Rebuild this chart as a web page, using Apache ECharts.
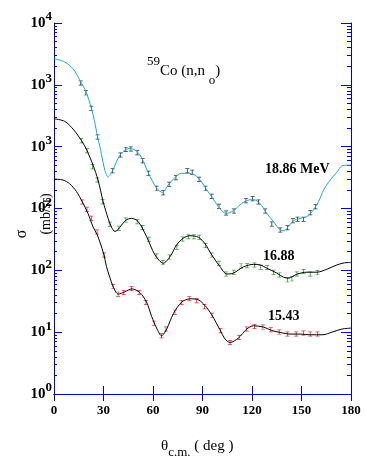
<!DOCTYPE html>
<html>
<head>
<meta charset="utf-8">
<script src="https://cdn.jsdelivr.net/npm/echarts@6/dist/echarts.min.js"></script>
<style>
  html, body { margin: 0; padding: 0; background: #fff; }
  #main { width: 365px; height: 464px; }
</style>
</head>
<body>
<div id="main"></div>
<script>
// [angle (deg), log10 sigma in axis units]
var curve1886 = [[0,5.425],[6.5,5.37],[11.5,5.26],[15.6,5.08],[19.5,4.88],[22.7,4.62],[24.5,4.42],[26.4,4.16],[27.8,4.0],[29.8,3.74],[30.8,3.62],[32.8,3.51],[35.5,3.61],[37.9,3.76],[39.9,3.86],[43.5,3.956],[46,3.97],[50,3.93],[53.1,3.82],[57.1,3.58],[62.2,3.33],[65.7,3.26],[69.2,3.38],[73.3,3.5],[77.4,3.57],[81.4,3.57],[85.4,3.54],[89.5,3.43],[92.6,3.3],[95.6,3.19],[99.6,3.03],[104.3,2.92],[108.7,2.965],[112.8,3.06],[116.8,3.13],[120.9,3.145],[124.9,3.08],[129,2.92],[133,2.79],[137.1,2.65],[139.5,2.64],[142.1,2.71],[145.1,2.8],[149.2,2.84],[153.3,2.87],[157.3,2.98],[160.3,3.11],[163.4,3.3],[167.4,3.46],[171.5,3.59],[174.5,3.69],[177.6,3.7],[180,3.7]];
var points1886 = [[16.2,5.03],[19.3,4.87],[22.6,4.62],[26.4,4.155],[35.5,3.61],[40.3,3.864],[43.5,3.956],[46.6,3.961],[50.4,3.901],[53.7,3.772],[57.3,3.569],[62.2,3.326],[66.2,3.255],[69.8,3.391],[73.9,3.497],[80.8,3.61],[83.8,3.585],[87.9,3.472],[91.8,3.326],[95.6,3.197],[100,3.036],[104.3,2.927],[109.1,2.96],[116.3,3.126],[120.4,3.157],[123.9,3.105],[128,2.96],[132,2.75],[137.1,2.653],[141.5,2.69],[144.8,2.803],[147.6,2.826],[151.2,2.826],[155.3,2.932],[158.5,3.029]];

var curve1688 = [[0,4.45],[6.5,4.41],[12,4.27],[16.6,4.1],[19.9,3.945],[21.7,3.83],[23.7,3.7],[26.7,3.46],[29.8,3.11],[32.8,2.84],[34.8,2.7],[36.9,2.63],[38.5,2.65],[40.9,2.73],[43.5,2.81],[47,2.84],[51,2.79],[56.1,2.545],[61.2,2.25],[66.2,2.115],[70.3,2.22],[74.3,2.41],[78.3,2.52],[82.4,2.56],[87.5,2.535],[91.5,2.43],[95.6,2.25],[100.6,2.06],[104.7,1.94],[108.7,1.955],[114.8,2.056],[120.9,2.096],[124.9,2.088],[129,2.035],[135.1,1.954],[139.1,1.889],[142.1,1.873],[147.2,1.938],[153.3,1.97],[159.4,1.97],[165.4,2.018],[171.5,2.088],[177.6,2.125],[180,2.125]];
var points1688 = [[16.6,4.095],[20,3.933],[23.3,3.675],[26.2,3.46],[29.4,3.11],[33.8,2.745],[39.3,2.68],[43.5,2.814],[50.4,2.787],[53.7,2.693],[57.5,2.503],[62.2,2.233],[66,2.125],[70,2.214],[74.5,2.374],[78,2.508],[81.4,2.545],[84.8,2.545],[88.1,2.535],[91.8,2.403],[95.6,2.246],[100,2.115],[104.3,1.942],[109,1.97],[113.4,2.072],[117.1,2.075],[121.5,2.085],[125.3,2.051],[129.2,2.047],[133,1.97],[136.6,1.926],[141.5,1.846],[144.2,1.862],[147.2,1.942],[151.2,1.98],[155.3,1.942],[159.7,1.963]];

var curve1543 = [[0,3.476],[5.5,3.46],[9.5,3.4],[13.6,3.275],[17.1,3.11],[20.6,2.92],[23.7,2.7],[26.1,2.58],[27.8,2.46],[30.3,2.25],[31.8,2.06],[33.8,1.89],[35.8,1.74],[38.9,1.615],[42.9,1.652],[47.2,1.7],[52,1.641],[56.1,1.486],[59.2,1.253],[62.2,1.066],[65.2,0.941],[68.3,1.05],[72.3,1.297],[77.4,1.486],[82.4,1.539],[87.5,1.523],[91.5,1.431],[95.6,1.28],[100.6,1.038],[103.7,0.888],[106.7,0.833],[111.7,0.904],[116.8,1.05],[120.9,1.103],[127,1.082],[132,1.027],[137.1,0.995],[143.1,0.969],[149.2,0.969],[155.3,0.958],[163,0.958],[168.5,1.001],[174.5,1.05],[180,1.066]];
var points1543 = [[17.1,3.105],[20,2.987],[22.7,2.842],[26.1,2.62],[30.3,2.249],[35.8,1.737],[38.9,1.615],[42.3,1.641],[47,1.705],[51.6,1.641],[55.7,1.479],[60.7,1.146],[65.2,0.941],[67.8,1.05],[73.3,1.324],[77.4,1.479],[82,1.539],[86.5,1.507],[91.2,1.41],[95.8,1.272],[100.9,1.022],[106.7,0.833],[112.2,0.914],[116.8,1.05],[121.5,1.092],[126.6,1.082],[131.4,1.038],[136.5,1.001],[141.5,0.969],[146.8,0.969],[151.2,0.985],[155.3,0.969],[159.7,0.969]];

// y tick labels, bottom to top (as printed on the figure)
var yTickPow = ['0', '1', '2', '2', '3', '3', '4'];
var xTicks = [0, 30, 60, 90, 120, 150, 180];

var BLUE = '#0000d8';
var SERIF = 'Liberation Serif';
var IBEAM = 'path://M0 0H5V1H3V6H5V7H0V6H2V1H0Z';

function toXY(arr) {
    return arr.map(function (p) { return [p[0], Math.pow(10, p[1])]; });
}

// log minor ticks at 2..9 of every decade
var minorTicks = [];
for (var d = 0; d < 6; d++) {
    for (var k = 2; k <= 9; k++) minorTicks.push(d + Math.log10(k));
}

var myChart = echarts.init(document.getElementById('main'));

function lineSeries(data, color) {
    return {
        type: 'line', xAxisIndex: 0, yAxisIndex: 0,
        data: toXY(data), symbol: 'none', smooth: 0.3,
        lineStyle: { color: color, width: 1 }
    };
}
function pointSeries(data, color) {
    return {
        type: 'scatter', xAxisIndex: 0, yAxisIndex: 0,
        data: toXY(data), symbol: IBEAM, symbolSize: [4, 5],
        itemStyle: { color: color }
    };
}

var option = {
    animation: false,
    grid: { left: 54, right: 14, top: 23, bottom: 70 },
    xAxis: [{
        type: 'value', min: 0, max: 180, interval: 30, position: 'bottom',
        axisLine: { lineStyle: { color: BLUE, width: 1 } },
        axisTick: { inside: true, length: 8, lineStyle: { color: BLUE } },
        splitLine: { show: false },
        axisLabel: {
            margin: 10, color: '#000', fontFamily: SERIF, fontWeight: 'bold', fontSize: 13,
            formatter: function (v) { return xTicks.indexOf(v) >= 0 ? String(v) : ''; }
        }
    }, {
        type: 'value', min: 0, max: 180, interval: 30, position: 'top',
        axisLine: { lineStyle: { color: BLUE, width: 1 } },
        axisTick: { inside: true, length: 7, lineStyle: { color: BLUE } },
        splitLine: { show: false },
        axisLabel: { show: false }
    }],
    yAxis: [{
        type: 'log', logBase: 10, min: 1, max: 1e6, show: false
    }, {
        type: 'value', min: 0, max: 6, interval: 1, position: 'left',
        axisLine: { show: true, lineStyle: { color: BLUE, width: 1 } },
        axisTick: { show: true, inside: true, length: 8, lineStyle: { color: BLUE } },
        splitLine: { show: false },
        axisLabel: {
            margin: 2,
            formatter: function (v) { return '{b|10}{s|' + yTickPow[v] + '}'; },
            rich: {
                b: { fontFamily: SERIF, fontWeight: 'bold', fontSize: 15, color: '#000' },
                s: { fontFamily: SERIF, fontWeight: 'bold', fontSize: 13, color: '#000', padding: [0, 0, 12, 0] }
            }
        }
    }, {
        type: 'value', min: 0, max: 6, position: 'left',
        axisLine: { show: false },
        axisTick: { show: true, inside: true, length: 3, customValues: minorTicks, lineStyle: { color: BLUE } },
        splitLine: { show: false },
        axisLabel: { show: false }
    }, {
        type: 'value', min: 0, max: 6, interval: 1, position: 'right',
        axisLine: { show: true, lineStyle: { color: BLUE, width: 1 } },
        axisTick: { show: true, inside: true, length: 10, lineStyle: { color: BLUE } },
        splitLine: { show: false },
        axisLabel: { show: false }
    }, {
        type: 'value', min: 0, max: 6, position: 'right',
        axisLine: { show: false },
        axisTick: { show: true, inside: true, length: 4, customValues: minorTicks, lineStyle: { color: BLUE } },
        splitLine: { show: false },
        axisLabel: { show: false }
    }],
    graphic: [{
        type: 'text', x: 147, y: 71,
        style: {
            text: '{s|59}{b|Co (n,n }{u|o}{b|)}',
            verticalAlign: 'middle',
            rich: {
                b: { fontFamily: SERIF, fontSize: 15, fill: '#000' },
                s: { fontFamily: SERIF, fontSize: 13, fill: '#000', padding: [0, 0, 18, 0] },
                u: { fontFamily: SERIF, fontSize: 13, fill: '#000', padding: [19, 0, 0, 0] }
            }
        }
    }, {
        type: 'text', left: 265, top: 162,
        style: { text: '18.86 MeV', font: 'bold 14px "Liberation Serif"', fill: '#000' }
    }, {
        type: 'text', left: 263, top: 249,
        style: { text: '16.88', font: 'bold 14px "Liberation Serif"', fill: '#000' }
    }, {
        type: 'text', left: 268, top: 309,
        style: { text: '15.43', font: 'bold 14px "Liberation Serif"', fill: '#000' }
    }, {
        type: 'text', x: 161, y: 446,
        style: {
            text: '{b|θ}{u|c.m.}{b| ( deg )}',
            verticalAlign: 'middle',
            rich: {
                b: { fontFamily: SERIF, fontSize: 15, fill: '#000' },
                u: { fontFamily: SERIF, fontSize: 13, fill: '#000', padding: [14, 0, 0, 0] }
            }
        }
    }, {
        type: 'text', x: 22, y: 234, rotation: Math.PI / 2,
        style: { text: 'σ', font: '16px "Liberation Serif"', fill: '#000', align: 'center', verticalAlign: 'middle' }
    }, {
        type: 'text', x: 46, y: 214, rotation: Math.PI / 2,
        style: { text: '(mb/sr)', font: '14px "Liberation Serif"', fill: '#000', align: 'center', verticalAlign: 'middle' }
    }],
    series: [
        lineSeries(curve1886, '#14a8e0'),
        lineSeries(curve1688, '#000'),
        lineSeries(curve1543, '#000'),
        pointSeries(points1886, '#000'),
        pointSeries(points1688, '#008a00'),
        pointSeries(points1543, '#e00000')
    ]
};

myChart.setOption(option);
</script>
</body>
</html>
